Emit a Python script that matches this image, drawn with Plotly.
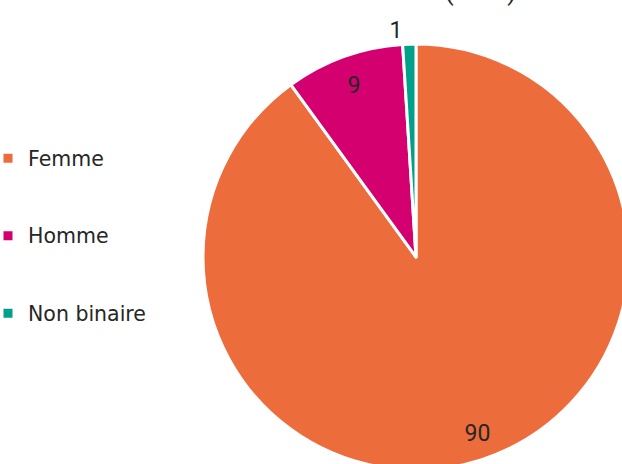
import plotly.graph_objects as go

labels = ["Femme", "Homme", "Non binaire"]
values = [90, 9, 1]
colors = ["#EC6C3B", "#D4006F", "#00A08A"]
title_text = "Genre (en %)"

SHIFT = 20            # page offset of the figure div (px)
W, H = 660, 480
cx, cy, r = 416 + SHIFT, 257, 213

NB = "\u00a0"
legend_labels = [" <br><span style='font-size:20.5px'>" + l + "</span><br> " for l in labels]
templates = [
    " <br> <br> <br> <br> <br>" + NB * 10 + "%{value}",
    "%{value}" + NB * 2 + "<br> ",
    "%{value}",
]

fig = go.Figure(go.Pie(
    labels=legend_labels,
    values=values,
    sort=False,
    direction="clockwise",
    rotation=0,
    marker=dict(colors=colors, line=dict(color="white", width=3)),
    textinfo="value",
    texttemplate=templates,
    textposition=["inside", "inside", "outside"],
    insidetextorientation="horizontal",
    insidetextfont=dict(family="Roboto", size=23, color="#262626"),
    outsidetextfont=dict(family="Roboto", size=23, color="#262626"),
    domain=dict(x=[(cx - r) / W, (cx + r) / W], y=[1 - (cy + r) / H, 1 - (cy - r) / H]),
    hoverinfo="value",
))

fig.add_annotation(
    text=title_text, xref="paper", yref="paper",
    x=(518 + SHIFT) / W, y=1 + 9 / H, xanchor="right", yanchor="middle",
    showarrow=False, font=dict(family="Roboto", size=26, color="#262626"),
)

fig.update_layout(
    width=W, height=H,
    margin=dict(l=0, r=0, t=0, b=0),
    paper_bgcolor="white", plot_bgcolor="white",
    showlegend=True,
    legend=dict(
        x=(SHIFT - 12) / W, xanchor="left", y=1 - 236 / H, yanchor="middle",
        font=dict(family="DejaVu Sans", size=19.1, color="#262626"),
        bgcolor="rgba(0,0,0,0)",
    ),
)

fig.write_html(
    "out.html",
    config={"displayModeBar": False},
    post_script=(
        "document.body.style.margin='0';"
        "document.body.style.overflow='hidden';"
        "document.documentElement.style.overflow='hidden';"
        "document.querySelector('.plotly-graph-div').style.marginLeft='-%dpx';" % SHIFT
    ),
)
